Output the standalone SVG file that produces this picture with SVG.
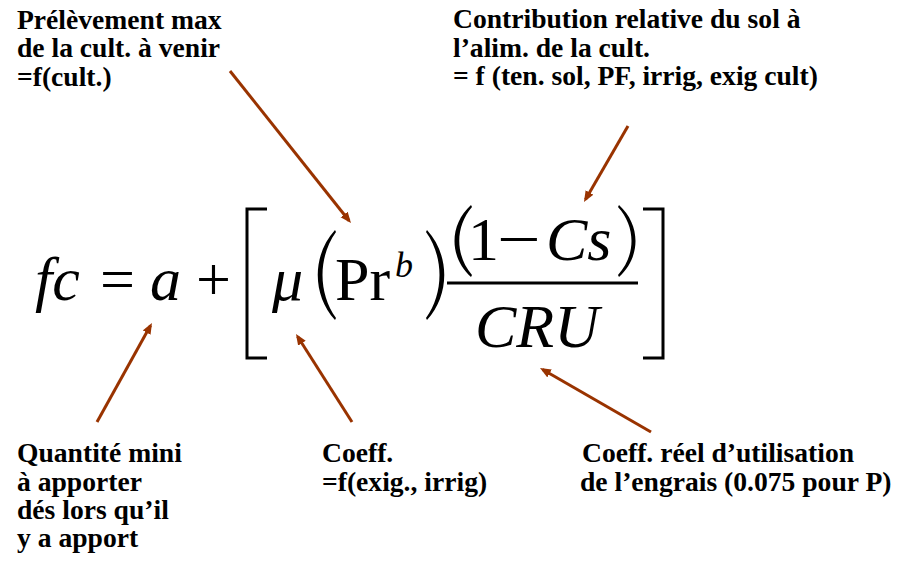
<svg xmlns="http://www.w3.org/2000/svg" width="902" height="565" viewBox="0 0 902 565">
<style>
.lbl{font-family:'Liberation Serif',Tinos,'Nimbus Roman','Times New Roman',Times,'DejaVu Serif','Noto Serif',serif;font-weight:bold;font-size:27.6px;fill:#000}
.m{font-family:'Liberation Serif',Tinos,'Nimbus Roman','Times New Roman',Times,'DejaVu Serif','Noto Serif',serif;font-size:62px;fill:#000}
.i{font-style:italic}
.arr{stroke:#993300;stroke-width:3;fill:none;marker-end:url(#ah)}
.br{stroke:#000;stroke-width:3;fill:none}
</style>
<defs>
<marker id="ah" markerUnits="userSpaceOnUse" markerWidth="12" markerHeight="10" refX="8" refY="4.5" orient="auto" viewBox="0 0 12 10">
<path d="M0,0 L11,4.5 L0,9 z" fill="#993300"/>
</marker>
</defs>
<rect width="902" height="565" fill="#fff"/>
<g id="label-prelevement" class="lbl">
<text x="17" y="29">Prélèvement max</text>
<text x="17" y="57">de la cult. à venir</text>
<text x="17" y="86">=f(cult.)</text>
</g>
<g id="label-contribution" class="lbl">
<text x="453" y="28">Contribution relative du sol à</text>
<text x="453" y="57">l’alim.  de la cult.</text>
<text x="453" y="85">= f (ten. sol, PF, irrig, exig cult)</text>
</g>
<g id="label-quantite" class="lbl">
<text x="17" y="462">Quantité mini</text>
<text x="17" y="491">à apporter</text>
<text x="17" y="519">dés lors qu’il</text>
<text x="17" y="547">y a apport</text>
</g>
<g id="label-coeff" class="lbl">
<text x="322" y="462">Coeff.</text>
<text x="322" y="491">=f(exig., irrig)</text>
</g>
<g id="label-cru" class="lbl">
<text x="582" y="462">Coeff. réel d’utilisation</text>
<text x="580" y="491">de l’engrais (0.075 pour P)</text>
</g>
<g id="formula">
<text class="m i" x="35" y="300">fc</text>
<text class="m" x="100" y="300">=</text>
<text class="m i" x="150" y="300">a</text>
<text class="m" x="196" y="300">+</text>
<path class="br" d="M267,209 H247 V358 H267"/>
<text class="m i" x="272" y="300">μ</text>
<path d="M335,230 C312,255 312,295 335,320 L336,318 C318,293 318,257 336,232 Z" fill="#000"/>
<text class="m" x="335" y="300">Pr</text>
<text class="m i" x="395" y="277" style="font-size:36px">b</text>
<path d="M427,230 C450,255 450,295 427,320 L426,318 C444,293 444,257 426,232 Z" fill="#000"/>
<path d="M471,205 C449,225 449,257 471,277 L472,275 C455,255 455,227 472,207 Z" fill="#000"/>
<text class="m" x="468" y="260">1</text>
<text class="m" transform="translate(497,260) scale(1.25,1)" x="0" y="0">−</text>
<text class="m i" x="546" y="260">Cs</text>
<path d="M619,205 C641,225 641,257 619,277 L618,275 C636,255 636,227 618,207 Z" fill="#000"/>
<line x1="447" y1="283" x2="638" y2="283" stroke="#000" stroke-width="3"/>
<text class="m i" x="475" y="347">CRU</text>
<path class="br" d="M643,209 H663 V358 H643"/>
</g>
<g id="connectors">
<line class="arr" x1="230" y1="71" x2="349.1" y2="220.7"/>
<line class="arr" x1="628" y1="126" x2="585.5" y2="199.4"/>
<line class="arr" x1="97" y1="422" x2="150.5" y2="325.6"/>
<line class="arr" x1="352" y1="422" x2="297.6" y2="336.5"/>
<line class="arr" x1="651" y1="432" x2="542.6" y2="369.5"/>
</g>
</svg>
